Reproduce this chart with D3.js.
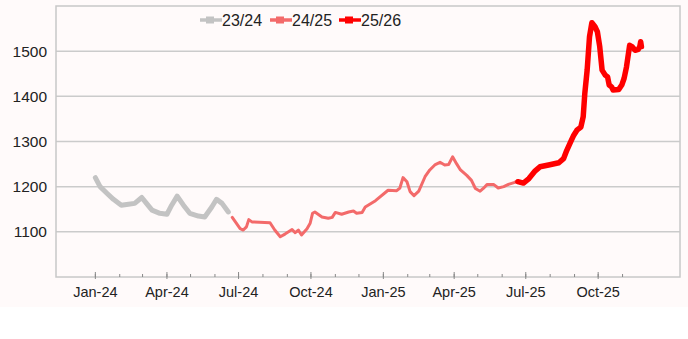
<!DOCTYPE html>
<html>
<head>
<meta charset="utf-8">
<script src="https://cdn.jsdelivr.net/npm/d3@7"></script>
<style>
  body { margin: 0; background: #ffffff; }
  svg { display: block; font-family: "Liberation Sans", Arial, sans-serif; }
</style>
</head>
<body>
<svg id="canvas" width="688" height="339"></svg>
<script>
// season labels
let seasons = ['23/24', '24/25', '25/26']

// 23/24
let dates2324 = ['2024-01-01','2024-01-07','2024-01-16','2024-01-24','2024-02-03','2024-02-12','2024-02-20','2024-02-29',
  '2024-03-06','2024-03-13','2024-03-23','2024-04-01','2024-04-07','2024-04-14','2024-04-22','2024-04-30',
  '2024-05-11','2024-05-19','2024-05-28','2024-06-03','2024-06-10','2024-06-18']
let values2324 = [1220,1200,1185,1172,1159,1161,1163,1176,
  1163,1148,1141,1139,1159,1179,1159,1141,
  1135,1133,1155,1172,1163,1144]

// 24/25
let dates2425 = ['2024-06-23','2024-07-03','2024-07-07','2024-07-11','2024-07-14','2024-07-18','2024-08-10','2024-08-16',
  '2024-08-23','2024-08-29','2024-09-07','2024-09-11','2024-09-15','2024-09-19','2024-09-26','2024-09-30',
  '2024-10-03','2024-10-06','2024-10-15','2024-10-23','2024-10-28','2024-11-01','2024-11-09','2024-11-18',
  '2024-11-24','2024-11-28','2024-12-05','2024-12-09','2024-12-22','2025-01-07','2025-01-18','2025-01-22',
  '2025-01-26','2025-01-31','2025-02-04','2025-02-09','2025-02-15','2025-02-23','2025-03-01','2025-03-08',
  '2025-03-14','2025-03-20','2025-03-25','2025-03-30','2025-04-04','2025-04-09','2025-04-17','2025-04-23',
  '2025-04-28','2025-05-04','2025-05-08','2025-05-13','2025-05-21','2025-05-27','2025-06-03','2025-06-09',
  '2025-06-16','2025-06-20']
let values2425 = [1132,1107,1104,1111,1127,1122,1120,1104,
  1089,1095,1105,1098,1104,1093,1107,1119,
  1141,1144,1133,1130,1132,1143,1139,1144,
  1146,1141,1143,1155,1169,1192,1191,1197,
  1220,1211,1189,1180,1190,1222,1237,1249,
  1254,1248,1249,1266,1251,1237,1225,1214,
  1196,1190,1196,1205,1205,1197,1200,1205,
  1209,1212]

// 25/26
let dates2526 = ['2025-06-21','2025-06-28','2025-07-05','2025-07-13','2025-07-19','2025-07-30','2025-08-12','2025-08-18',
  '2025-08-22','2025-08-27','2025-08-31','2025-09-04','2025-09-09','2025-09-12','2025-09-14','2025-09-17',
  '2025-09-20','2025-09-23','2025-09-27','2025-09-30','2025-10-03','2025-10-06','2025-10-10','2025-10-13',
  '2025-10-15','2025-10-18','2025-10-20','2025-10-27','2025-10-31','2025-11-03','2025-11-06','2025-11-10',
  '2025-11-13','2025-11-17','2025-11-21','2025-11-23','2025-11-24','2025-11-25']
let values2526 = [1211,1208,1218,1235,1244,1248,1253,1262,
  1280,1299,1314,1325,1332,1355,1406,1458,
  1532,1563,1554,1543,1510,1458,1447,1443,
  1425,1421,1414,1415,1425,1440,1465,1513,
  1510,1502,1504,1511,1521,1510]

// axis ticks
let yTicks = [1100, 1200, 1300, 1400, 1500]
let yGrid = [1100, 1200, 1300, 1400, 1500]
let majorTicks = ['2024-01-01','2024-04-01','2024-07-01','2024-10-01','2025-01-01','2025-04-01','2025-07-01','2025-10-01']

let parseDate = d3.timeParse('%Y-%m-%d')
let formatTick = d3.timeFormat('%b-%y')

let canvas = d3.select('#canvas')

let plotLeft = 56, plotRight = 680, plotTop = 6, plotBottom = 277

let xScale = d3.scaleTime()
    .domain([parseDate('2023-11-12'), parseDate('2026-01-13')])
    .range([plotLeft, plotRight])

let yScale = d3.scaleLinear()
    .domain([1000, 1600])
    .range([plotBottom, plotTop])

let seriesList = [
    {name: seasons[0], dates: dates2324, values: values2324, color: '#c3c3c3', width: 5},
    {name: seasons[1], dates: dates2425, values: values2425, color: '#f36a6a', width: 3},
    {name: seasons[2], dates: dates2526, values: values2526, color: '#ff0000', width: 5.5}
]

// background
canvas.append('rect')
    .attr('x', 0).attr('y', 0)
    .attr('width', 688).attr('height', 307)
    .attr('fill', '#fffafa')

// grid lines
canvas.selectAll('.grid')
    .data(yGrid)
    .enter()
    .append('line')
    .attr('class', 'grid')
    .attr('x1', plotLeft)
    .attr('x2', plotRight)
    .attr('y1', (d) => yScale(d))
    .attr('y2', (d) => yScale(d))
    .attr('stroke', '#cbcbcb')
    .attr('stroke-width', 1.5)

// plot border
canvas.append('rect')
    .attr('x', plotLeft).attr('y', plotTop)
    .attr('width', plotRight - plotLeft).attr('height', plotBottom - plotTop)
    .attr('fill', 'none')
    .attr('stroke', '#c8c8c8')
    .attr('stroke-width', 1.5)

// y axis labels
canvas.selectAll('.ylabel')
    .data(yTicks)
    .enter()
    .append('text')
    .attr('class', 'ylabel')
    .attr('x', 47)
    .attr('y', (d) => yScale(d))
    .attr('dy', '0.36em')
    .attr('text-anchor', 'end')
    .attr('font-size', 15.5)
    .attr('fill', '#222')
    .text((d) => d)

// x axis ticks
let minorTicks = d3.timeMonth.range(parseDate('2024-01-01'), parseDate('2025-11-02'))
canvas.selectAll('.minor')
    .data(minorTicks)
    .enter()
    .append('line')
    .attr('class', 'minor')
    .attr('x1', (d) => xScale(d))
    .attr('x2', (d) => xScale(d))
    .attr('y1', plotBottom - 3)
    .attr('y2', plotBottom)
    .attr('stroke', '#888')
    .attr('stroke-width', 1)

let majors = majorTicks.map(parseDate)
canvas.selectAll('.major')
    .data(majors)
    .enter()
    .append('line')
    .attr('class', 'major')
    .attr('x1', (d) => xScale(d))
    .attr('x2', (d) => xScale(d))
    .attr('y1', plotBottom - 5)
    .attr('y2', plotBottom + 2)
    .attr('stroke', '#888')
    .attr('stroke-width', 1)

canvas.selectAll('.xlabel')
    .data(majors)
    .enter()
    .append('text')
    .attr('class', 'xlabel')
    .attr('x', (d) => xScale(d))
    .attr('y', 297)
    .attr('text-anchor', 'middle')
    .attr('font-size', 14.5)
    .attr('fill', '#222')
    .text((d) => formatTick(d))

// lines
let line = d3.line()
    .x((d) => xScale(d.date))
    .y((d) => yScale(d.value))

seriesList.forEach((s) => {
    let points = s.dates.map((d, i) => ({date: parseDate(d), value: s.values[i]}))
    canvas.append('path')
        .datum(points)
        .attr('d', line)
        .attr('fill', 'none')
        .attr('stroke', s.color)
        .attr('stroke-width', s.width)
        .attr('stroke-linejoin', 'round')
        .attr('stroke-linecap', 'round')
})

// legend
let legendX = [200, 270, 339]
seriesList.forEach((s, i) => {
    let g = canvas.append('g').attr('transform', 'translate(' + legendX[i] + ',20)')
    g.append('line')
        .attr('x1', 0).attr('x2', 22)
        .attr('y1', 0).attr('y2', 0)
        .attr('stroke', s.color)
        .attr('stroke-width', 3.5)
    g.append('rect')
        .attr('x', 6).attr('y', -3.5)
        .attr('width', 8).attr('height', 7)
        .attr('fill', s.color)
    g.append('text')
        .attr('x', 22)
        .attr('y', 0)
        .attr('dy', '0.36em')
        .attr('font-size', 16)
        .attr('fill', '#222')
        .text(s.name)
})
</script>
</body>
</html>
